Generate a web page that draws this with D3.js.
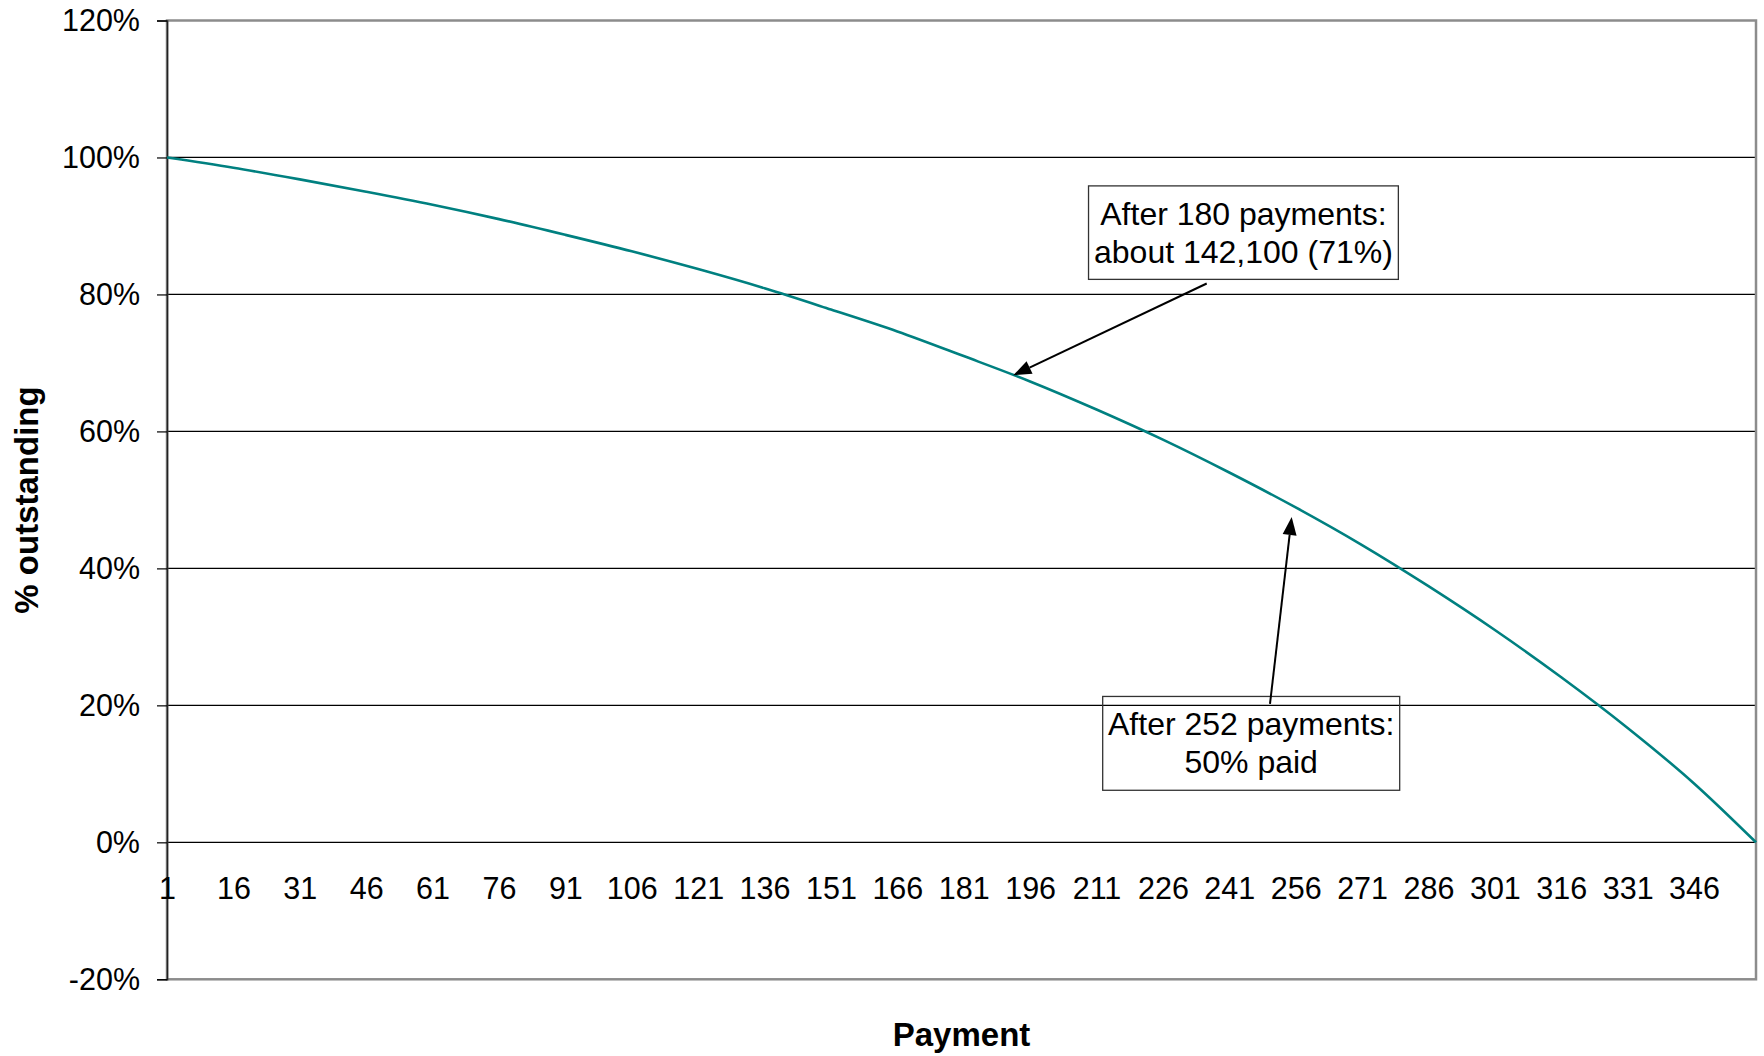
<!DOCTYPE html>
<html>
<head>
<meta charset="utf-8">
<script src="https://cdn.jsdelivr.net/npm/d3@7"></script>
<style>
  html, body { margin: 0; padding: 0; background: #fff; }
  svg { display: block; }
  text { font-family: "Liberation Sans", Arial, sans-serif; fill: #000; }
</style>
</head>
<body>
<svg id="chart" width="1764" height="1056"></svg>
<script>
// ---- data ----
const payments = [1, 16, 31, 46, 61, 76, 91, 106, 121, 136, 151, 166, 181, 196, 211, 226, 241, 256, 271, 286, 301, 316, 331, 346, 360];
const outstanding = [100, 98.5, 96.8, 95.0, 93.1, 91.0, 88.7, 86.3, 83.7, 80.9, 77.8, 74.6, 71.0, 67.3, 63.2, 58.8, 54.0, 48.9, 43.4, 37.4, 31.0, 24.1, 16.7, 8.6, 0];
const xTickLabels = [1, 16, 31, 46, 61, 76, 91, 106, 121, 136, 151, 166, 181, 196, 211, 226, 241, 256, 271, 286, 301, 316, 331, 346];
const yTicks = [-20, 0, 20, 40, 60, 80, 100, 120];
const noteLines1 = ["After 180 payments:", "about 142,100 (71%)"];
const noteLines2 = ["After 252 payments:", "50% paid"];

const svg = d3.select("#chart");
const L = 167, R = 1756, T = 20.5, B = 979.3;

const x = d3.scaleLinear().domain([1, 360]).range([L, R]);
const y = d3.scaleLinear().domain([-20, 120]).range([B, T]);

// gridlines
svg.append("g").selectAll("line").data(yTicks.filter(d => d > -20 && d < 120)).join("line")
  .attr("x1", L).attr("x2", R)
  .attr("y1", d => y(d)).attr("y2", d => y(d))
  .attr("stroke", "#000").attr("stroke-width", 1.2);

// plot border (gray)
svg.append("rect").attr("x", L).attr("y", T).attr("width", R - L).attr("height", B - T)
  .attr("fill", "none").attr("stroke", "#8c8c8c").attr("stroke-width", 2.5);

// y axis
const yAxis = svg.append("g").attr("transform", `translate(${L},0)`)
  .call(d3.axisLeft(y).tickValues(yTicks).tickFormat(d => d + "%").tickSize(10).tickPadding(17));
yAxis.select(".domain").attr("stroke", "#222").attr("stroke-width", 1.6);
yAxis.selectAll(".tick line").attr("stroke", "#000").attr("stroke-width", 1.2);
yAxis.selectAll("text").style("font-family", '"Liberation Sans", Arial, sans-serif').style("font-size", "30.5px").attr("fill", "#000");

// x axis labels (on the 0% line, no tick marks)
const xAxis = svg.append("g").attr("transform", `translate(0,${y(0)})`)
  .call(d3.axisBottom(x).tickValues(xTickLabels).tickFormat(d => d).tickSize(0).tickPadding(35));
xAxis.select(".domain").remove();
xAxis.selectAll("text").style("font-family", '"Liberation Sans", Arial, sans-serif').style("font-size", "30.5px").attr("fill", "#000");

// series line
const line = d3.line().x((d, i) => x(payments[i])).y(d => y(d)).curve(d3.curveMonotoneX);
svg.append("path").datum(outstanding).attr("d", line)
  .attr("fill", "none").attr("stroke", "#008080").attr("stroke-width", 2.6);

// axis titles
svg.append("text").attr("x", (L + R) / 2).attr("y", 1046).attr("text-anchor", "middle")
  .style("font-size", "33px").style("font-weight", "bold").text("Payment");
svg.append("text").attr("transform", "translate(38,500) rotate(-90)").attr("text-anchor", "middle")
  .style("font-size", "33px").style("font-weight", "bold").text("% outstanding");

// annotations
function arrow(x1, y1, x2, y2) {
  const ang = Math.atan2(y2 - y1, x2 - x1);
  const len = 18, hw = 7;
  const bx = x2 - len * Math.cos(ang), by = y2 - len * Math.sin(ang);
  svg.append("line").attr("x1", x1).attr("y1", y1).attr("x2", bx).attr("y2", by)
    .attr("stroke", "#000").attr("stroke-width", 2);
  const px = -Math.sin(ang) * hw, py = Math.cos(ang) * hw;
  svg.append("polygon")
    .attr("points", [[x2, y2], [bx + px, by + py], [bx - px, by - py]].map(p => p.join(",")).join(" "))
    .attr("fill", "#000");
}
function note(p1, v1, p2, v2, lines) {
  const x1 = x(p1), x2 = x(p2), y1 = y(v1), y2 = y(v2);
  svg.append("rect").attr("x", x1).attr("y", y1).attr("width", x2 - x1).attr("height", y2 - y1)
    .attr("fill", "none").attr("stroke", "#333").attr("stroke-width", 1.3);
  const cx = (x1 + x2) / 2, cy = (y1 + y2) / 2;
  lines.forEach((t, i) => {
    svg.append("text").attr("x", cx).attr("y", cy + (i - (lines.length - 1) / 2) * 38 + 11)
      .attr("text-anchor", "middle").style("font-size", "32px").text(t);
  });
}
note(209.2, 95.85, 279.2, 82.2, noteLines1);
note(212.4, 21.3, 279.5, 7.6, noteLines2);
arrow(x(235.9), y(81.6), x(192.2), y(68.2));
arrow(x(250.2), y(20.2), x(255.1), y(47.5));
</script>
</body>
</html>
